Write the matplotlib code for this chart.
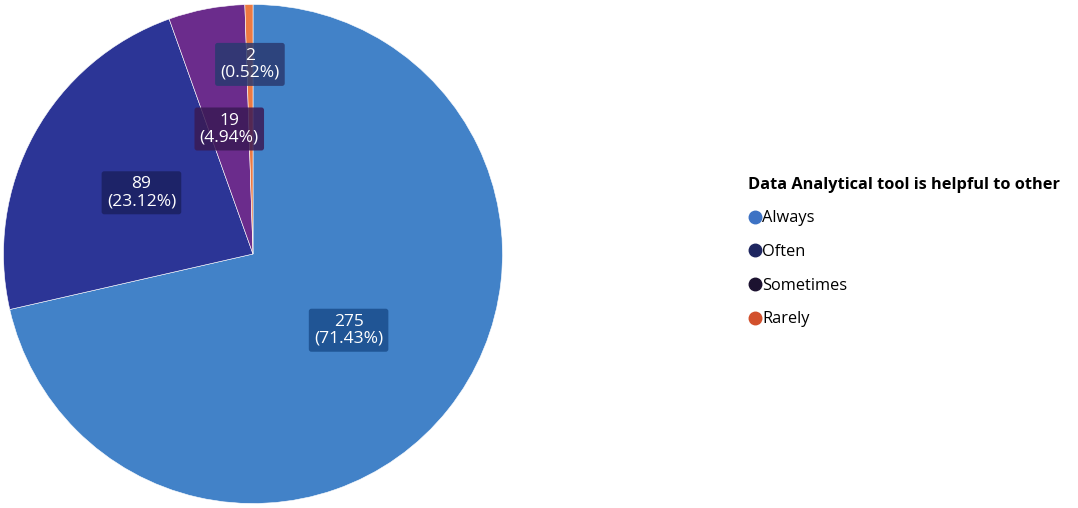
import matplotlib
matplotlib.use("Agg")
import matplotlib.pyplot as plt
from matplotlib.lines import Line2D
import numpy as np

plt.rcParams["font.family"] = ["Open Sans", "DejaVu Sans"]

CATEGORIES = ["Always", "Often", "Sometimes", "Rarely"]
COUNTS = [275, 89, 19, 2]
PCTS = ["71.43%", "23.12%", "4.94%", "0.52%"]
LEGEND_TITLE = "Data Analytical tool is helpful to other"

WEDGE_COLORS = ["#4282C8", "#2C3596", "#6B2C8C", "#EC7A42"]
LEGEND_COLORS = ["#3D72C4", "#1E2660", "#1C1230", "#D2502C"]
BOX_COLORS = ["#1A4E8C", "#1B2060", "#3A1A55", "#2A3A70"]
LABEL_R = [0.49, 0.51, 0.51, 0.76]

W, H = 1078, 508
fig = plt.figure(figsize=(W / 100, H / 100), dpi=100)
ax = fig.add_axes([1 / W, 2 / H, 504 / W, 504 / H])

wedges, _ = ax.pie(COUNTS, colors=WEDGE_COLORS, startangle=90, counterclock=False,
                   radius=1, wedgeprops=dict(edgecolor="white", linewidth=0.4))
ax.set_xlim(-1.01, 1.01)
ax.set_ylim(-1.01, 1.01)
ax.axis("off")

# value labels in dark boxes
for w, n, p, r, bc in zip(wedges, COUNTS, PCTS, LABEL_R, BOX_COLORS):
    ang = np.deg2rad((w.theta1 + w.theta2) / 2)
    ax.text(r * np.cos(ang), r * np.sin(ang), f"{n}\n({p})", ha="center", va="center",
            fontsize=12.5, color="white", linespacing=1.05,
            bbox=dict(boxstyle="round,pad=0.3,rounding_size=0.15", facecolor=bc,
                      edgecolor="none", alpha=0.85))

handles = [Line2D([], [], marker="o", ls="none", markersize=9, color=c)
           for c in LEGEND_COLORS]
leg = fig.legend(handles, CATEGORIES, title=LEGEND_TITLE, loc="upper left",
                 bbox_to_anchor=(741 / W, 1 - 170 / H), frameon=False, fontsize=11.8,
                 title_fontproperties=dict(weight="bold", size=11.8),
                 labelspacing=1.08, handletextpad=0.0, handlelength=0.9,
                 borderaxespad=0, alignment="left")

fig.savefig("out.png", dpi=100)
